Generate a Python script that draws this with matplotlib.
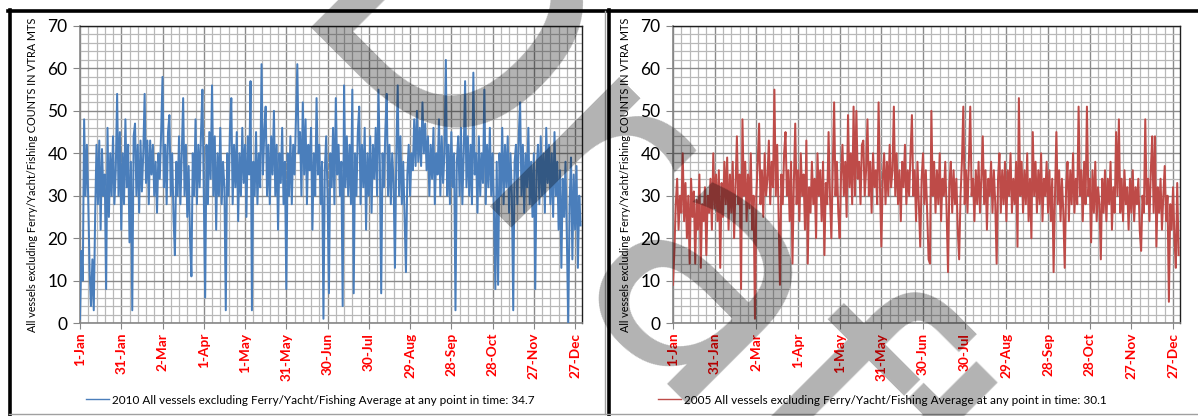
import numpy as np
import matplotlib
matplotlib.use("Agg")
import matplotlib.pyplot as plt
from matplotlib.ticker import MultipleLocator
from matplotlib.lines import Line2D

# ---------------- data (daily values) ----------------
tick_labels = ["1-Jan", "31-Jan", "2-Mar", "1-Apr", "1-May", "31-May", "30-Jun",
               "30-Jul", "29-Aug", "28-Sep", "28-Oct", "27-Nov", "27-Dec"]
tick_days = [0, 30, 60, 90, 120, 150, 180, 210, 240, 270, 300, 330, 360]

counts_2010 = [
    1, 17, 10, 48, 30, 42, 29, 12, 4, 15,
    3, 25, 42, 28, 43, 22, 41, 30, 35, 8,
    46, 25, 40, 30, 44, 28, 36, 54, 30, 45,
    22, 40, 28, 48, 32, 42, 19, 38, 3, 44,
    47, 30, 42, 26, 43, 31, 40, 54, 33, 43,
    28, 43, 35, 42, 30, 38, 26, 40, 34, 45,
    58, 32, 42, 28, 45, 49, 30, 40, 25, 16,
    38, 30, 44, 28, 40, 53, 30, 42, 25, 37,
    20, 11, 40, 30, 48, 28, 42, 32, 45, 55,
    30, 6, 42, 28, 45, 34, 56, 30, 44, 22,
    40, 30, 46, 28, 38, 32, 3, 40, 30, 45,
    53, 28, 42, 32, 45, 24, 40, 30, 46, 33,
    42, 25, 44, 35, 57, 3, 38, 30, 45, 28,
    40, 32, 61, 35, 45, 51, 30, 42, 28, 44,
    35, 50, 30, 42, 22, 40, 33, 46, 28, 38,
    8, 40, 30, 44, 28, 42, 35, 48, 61, 40,
    45, 30, 52, 35, 48, 28, 42, 36, 46, 22,
    40, 30, 53, 35, 42, 28, 38, 1, 36, 44,
    30, 7, 40, 32, 46, 28, 53, 35, 42, 30,
    38, 4, 56, 32, 44, 30, 42, 28, 55, 7,
    40, 30, 45, 51, 28, 42, 32, 46, 22, 40,
    30, 44, 26, 42, 34, 46, 30, 55, 38, 7,
    40, 32, 45, 54, 30, 42, 28, 40, 33, 13,
    40, 56, 30, 44, 28, 38, 25, 12, 35, 42,
    30, 40, 36, 48, 37, 50, 38, 46, 37, 52,
    40, 47, 36, 44, 30, 42, 34, 46, 28, 40,
    35, 48, 30, 44, 33, 40, 62, 30, 42, 28,
    45, 32, 40, 3, 38, 44, 30, 46, 28, 40,
    57, 32, 44, 30, 42, 28, 59, 35, 40, 26,
    44, 30, 40, 33, 55, 28, 42, 32, 46, 30,
    40, 26, 8, 38, 9, 40, 30, 46, 28, 42,
    32, 44, 26, 40, 30, 3, 38, 42, 28, 44,
    52, 30, 42, 26, 40, 32, 46, 28, 38, 25,
    40, 8, 36, 42, 28, 44, 30, 40, 26, 46,
    33, 42, 28, 40, 25, 45, 30, 38, 22, 36,
    13, 34, 25, 38, 20, 0, 28, 39, 15, 35,
    22, 37, 13, 30, 23,
]

counts_2005 = [
    9, 17, 28, 34, 22, 30, 26, 40, 24, 33,
    20, 30, 14, 34, 25, 31, 14, 29, 22, 35,
    13, 28, 24, 32, 16, 30, 26, 34, 22, 40,
    27, 35, 24, 36, 13, 33, 25, 38, 28, 39,
    22, 35, 26, 38, 20, 32, 44, 28, 35, 8,
    48, 30, 38, 24, 35, 27, 40, 22, 30, 1,
    30, 38, 47, 28, 36, 25, 40, 30, 34, 43,
    28, 38, 32, 55, 30, 42, 26, 9, 35, 28,
    40, 45, 30, 36, 24, 38, 14, 33, 47, 28,
    36, 24, 40, 30, 35, 22, 43, 14, 32, 26,
    38, 28, 34, 20, 40, 30, 36, 24, 38, 16,
    33, 28, 45, 30, 20, 36, 52, 30, 38, 26,
    20, 35, 42, 30, 38, 25, 49, 32, 40, 28,
    51, 30, 50, 34, 38, 28, 42, 43, 30, 36,
    48, 30, 38, 26, 40, 32, 36, 28, 52, 32,
    18, 34, 40, 28, 38, 30, 42, 32, 36, 51,
    30, 40, 28, 36, 24, 38, 32, 42, 28, 36,
    30, 40, 49, 30, 36, 24, 38, 28, 18, 34,
    40, 28, 36, 26, 15, 14, 50, 30, 38, 26,
    36, 28, 40, 24, 34, 30, 38, 26, 12, 33,
    38, 26, 36, 28, 34, 22, 15, 30, 38, 51,
    28, 36, 26, 38, 51, 30, 34, 24, 36, 28,
    38, 26, 34, 44, 28, 36, 22, 34, 30, 38,
    26, 36, 28, 14, 34, 40, 26, 36, 28, 38,
    24, 36, 30, 40, 26, 34, 28, 38, 18, 53,
    30, 38, 26, 36, 28, 40, 24, 34, 20, 45,
    30, 38, 26, 36, 28, 40, 24, 34, 30, 38,
    26, 36, 24, 34, 12, 30, 45, 28, 36, 24,
    34, 26, 13, 32, 38, 24, 36, 28, 40, 26,
    34, 28, 51, 30, 36, 24, 38, 28, 51, 30,
    34, 19, 36, 26, 38, 24, 32, 28, 15, 34,
    26, 36, 24, 34, 28, 38, 22, 32, 26, 45,
    30, 48, 26, 34, 24, 36, 28, 32, 22, 34,
    26, 36, 24, 32, 28, 34, 22, 17, 30, 26,
    48, 28, 34, 24, 36, 44, 26, 44, 18, 32,
    26, 34, 22, 30, 37, 24, 30, 5, 28, 22,
    32, 20, 13, 33, 16,
]

legend_2010 = "2010 All vessels excluding Ferry/Yacht/Fishing Average at any point in time: 34.7"
legend_2005 = "2005 All vessels excluding Ferry/Yacht/Fishing Average at any point in time: 30.1"
ylabel = "All vessels excluding Ferry/Yacht/Fishing COUNTS IN VTRA MTS"
watermark = "Draft"

# ---------------- figure ----------------
W, H = 1198, 416
fig = plt.figure(figsize=(W / 100, H / 100), dpi=100)
fam = ["Lato", "DejaVu Sans"]

def px(x0, y0, x1, y1):
    return [x0 / W, 1 - y1 / H, (x1 - x0) / W, (y1 - y0) / H]

def panel(rect, values, color):
    ax = fig.add_axes(rect)
    days = np.arange(len(values))
    ax.plot(days, values, color=color, lw=1.45, zorder=3)
    ax.set_xlim(0, 365)
    ax.set_ylim(0, 70)
    ax.set_yticks(range(0, 71, 10))
    ax.yaxis.set_minor_locator(MultipleLocator(2))
    ax.set_xticks(tick_days)
    ax.xaxis.set_minor_locator(MultipleLocator(6))
    ax.grid(which="minor", color="#b8b8b8", lw=0.9, zorder=0)
    ax.grid(which="major", color="#8a8a8a", lw=1.0, zorder=1)
    ax.set_axisbelow(True)
    ax.set_xticklabels(tick_labels, rotation=90, color="#ff0000",
                       fontweight="bold", fontsize=9.8, family=fam)
    ax.set_yticklabels([str(v) for v in range(0, 71, 10)], fontsize=12.5, family=fam)
    ax.tick_params(axis="both", which="minor", length=0)
    ax.tick_params(axis="y", which="major", length=5, color="#868686", pad=4)
    ax.tick_params(axis="x", which="major", length=4, color="#868686", pad=3)
    for s in ("left", "bottom"):
        ax.spines[s].set_color("#868686")
        ax.spines[s].set_linewidth(1.2)
    for s in ("top", "right"):
        ax.spines[s].set_color("#202020")
        ax.spines[s].set_linewidth(1.0)
    ax.set_ylabel(ylabel, fontsize=7.8, family=fam, labelpad=7)
    return ax

ax1 = panel(px(80, 26, 582, 323), counts_2010, "#4A7EBB")
ax2 = panel(px(673, 26, 1180, 323), counts_2005, "#BE4B48")

for col, lab, cx in (("#4A7EBB", legend_2010, 310), ("#BE4B48", legend_2005, 882)):
    h = Line2D([], [], color=col, lw=1.0)
    fig.legend([h], [lab], loc="center", bbox_to_anchor=(cx / W, 1 - 400 / H),
               frameon=False, handlelength=2.0, handletextpad=0.2,
               prop={"family": fam, "size": 8.5})

# panel frames
def fline(x0, y0, x1, y1, color, lw):
    fig.add_artist(Line2D([x0 / W, x1 / W], [1 - y0 / H, 1 - y1 / H],
                          color=color, lw=lw, transform=fig.transFigure))

fline(8, 11, W, 11, "black", 2.6)
fline(9.5, 10, 9.5, H, "black", 2.6)
fline(605, 11, 605, 414, "#a0a0a0", 1.0)
fline(608.5, 10, 608.5, H, "black", 2.6)
fline(9, 413.5, W, 413.5, "#a0a0a0", 1.0)

# watermark
th = 45
size = 240
em = size * 100 / 72
u = np.array([np.cos(np.radians(th)), np.sin(np.radians(th))])
O = np.array([300, 50]) - 0.098 * em * u
fig.text(O[0] / W, 1 - O[1] / H, watermark, fontsize=size, family="DejaVu Sans",
         color="black", alpha=0.3, rotation=-th, rotation_mode="anchor",
         ha="left", va="baseline", zorder=10)

fig.savefig("out.png", dpi=100)
